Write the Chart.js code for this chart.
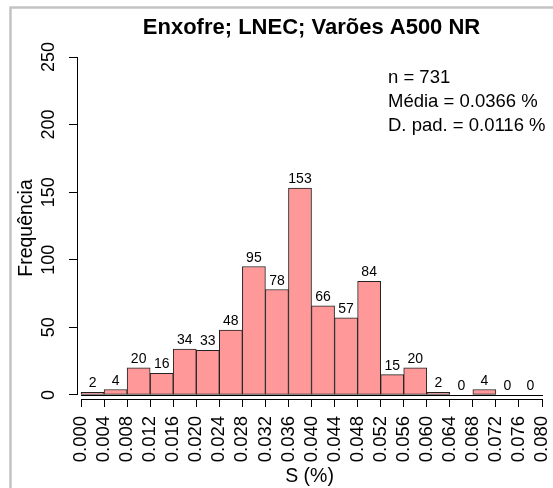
<!DOCTYPE html>
<html>
<head>
<meta charset="utf-8">
<script src="https://cdn.jsdelivr.net/npm/chart.js@4"></script>
<style>
  html, body { margin: 0; padding: 0; background: #fff; }
</style>
</head>
<body>
<canvas id="chart" width="553" height="488"></canvas>
<script>
// histogram data
const breaks = [0.000, 0.004, 0.008, 0.012, 0.016, 0.020, 0.024, 0.028, 0.032, 0.036, 0.040,
                0.044, 0.048, 0.052, 0.056, 0.060, 0.064, 0.068, 0.072, 0.076, 0.080];
const counts = [2, 4, 20, 16, 34, 33, 48, 95, 78, 153, 66, 57, 84, 15, 20, 2, 0, 4, 0, 0];
const yTicks = [0, 50, 100, 150, 200, 250];
const titleText = 'Enxofre; LNEC; Varões A500 NR';
const statLines = ['n = 731', 'Média = 0.0366 %', 'D. pad. = 0.0116 %'];
const xLabel = 'S (%)';
const yLabel = 'Frequência';

const FONT = '"Liberation Sans", Arial, sans-serif';
Chart.defaults.font.family = FONT;
Chart.defaults.color = '#000';

const bars = counts.map((c, i) => ({ x: (breaks[i] + breaks[i + 1]) / 2, y: c }));

// R-like decorations: frame, detached axes, counts above bars, title, stats
const rStyle = {
  id: 'rStyle',
  beforeDraw(chart) {
    const ctx = chart.ctx;
    ctx.save();
    ctx.fillStyle = '#fff';
    ctx.fillRect(0, 0, chart.width, chart.height);
    ctx.strokeStyle = '#c3c3c3';
    ctx.lineWidth = 2.5;
    ctx.beginPath();
    ctx.moveTo(10.5, chart.height);
    ctx.lineTo(10.5, 7.5);
    ctx.lineTo(chart.width, 7.5);
    ctx.stroke();
    ctx.restore();
  },
  afterDraw(chart) {
    const { ctx, chartArea } = chart;
    const x = chart.scales.x, y = chart.scales.y;
    const x0 = x.getPixelForValue(breaks[0]);
    const x1 = x.getPixelForValue(breaks[breaks.length - 1]);
    const yb = Math.round(y.getPixelForValue(0)) + 0.5;
    ctx.save();
    ctx.strokeStyle = '#000';
    ctx.lineWidth = 1;
    ctx.beginPath();
    // baseline of the bars
    ctx.moveTo(x0, yb); ctx.lineTo(x1 + 1, yb);
    // x axis
    const ax = Math.round(chartArea.bottom) + 0.5;
    ctx.moveTo(x0, ax); ctx.lineTo(x1, ax);
    // y axis
    const ay = Math.round(chartArea.left) + 0.5;
    ctx.moveTo(ay, y.getPixelForValue(yTicks[0])); ctx.lineTo(ay, y.getPixelForValue(yTicks[yTicks.length - 1]));
    ctx.stroke();

    // counts above the bars
    ctx.fillStyle = '#000';
    ctx.font = '14px ' + FONT;
    ctx.textAlign = 'center';
    ctx.textBaseline = 'alphabetic';
    chart.getDatasetMeta(0).data.forEach((el, i) => {
      ctx.fillText(String(counts[i]), el.x, el.y - 5);
    });

    // title
    ctx.font = 'bold 22px ' + FONT;
    ctx.textBaseline = 'middle';
    ctx.fillText(titleText, (x0 + x1) / 2, 28);

    // stats
    ctx.font = '18.5px ' + FONT;
    ctx.textAlign = 'left';
    statLines.forEach((t, i) => ctx.fillText(t, 388, 78 + 24 * i));
    ctx.restore();
  }
};

new Chart(document.getElementById('chart'), {
  type: 'bar',
  data: {
    datasets: [{
      data: bars,
      backgroundColor: 'rgb(255,153,153)',
      borderColor: '#222',
      borderWidth: 1,
      borderSkipped: false,
      barPercentage: 1,
      categoryPercentage: 1
    }]
  },
  options: {
    responsive: false,
    animation: false,
    layout: { padding: { top: 57, right: 11, left: 0, bottom: 0 } },
    plugins: { legend: { display: false }, tooltip: { enabled: false }, title: { display: false } },
    scales: {
      x: {
        type: 'linear',
        offset: false,
        min: -0.0007,
        max: 0.080,
        grid: { offset: false, drawOnChartArea: false, drawTicks: true, tickLength: 8, color: '#000' },
        border: { display: false },
        afterBuildTicks: s => { s.ticks = breaks.map(v => ({ value: v })); },
        afterFit: s => { s.height = 89; s.paddingLeft = 0; s.paddingRight = 0; },
        ticks: {
          autoSkip: false,
          minRotation: 90,
          maxRotation: 90,
          padding: 9,
          font: { size: 18.5 },
          callback: v => Number(v).toFixed(3)
        },
        title: { display: true, text: xLabel, font: { size: 19.5 }, padding: { top: 0, bottom: 0 } }
      },
      y: {
        min: -3,
        max: 250,
        grid: { drawOnChartArea: false, drawTicks: true, tickLength: 8, color: '#000' },
        border: { display: false },
        afterBuildTicks: s => { s.ticks = yTicks.map(v => ({ value: v })); },
        afterFit: s => { s.width = 77; s.paddingTop = 0; s.paddingBottom = 0; },
        ticks: {
          minRotation: 90,
          maxRotation: 90,
          crossAlign: 'center',
          padding: 5,
          font: { size: 18 }
        },
        title: { display: true, text: yLabel, font: { size: 19.5 }, padding: { top: 15, bottom: 0 } }
      }
    }
  },
  plugins: [rStyle]
});
</script>
</body>
</html>
